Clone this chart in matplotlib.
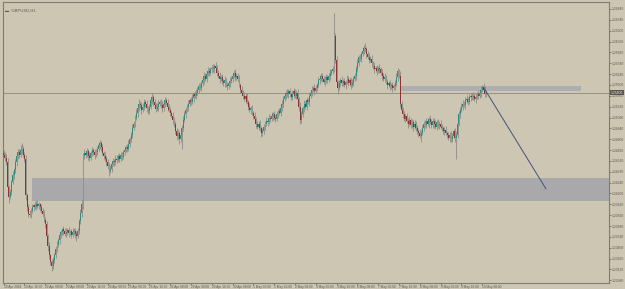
import numpy as np
import matplotlib.pyplot as plt

# GBPUSD H1, prices kept as pips above 1.2300
BASE = 1.2300
PIP = 0.0001

closes = [
    160, 156, 150, 118, 106, 112, 125, 134, 140, 150, 158, 163, 160, 166, 168, 160, 155, 108, 92, 84,
    82, 88, 92, 95, 93, 97, 94, 96, 92, 88, 84, 76, 70, 55, 42, 30, 22, 16, 24, 30,
    38, 44, 50, 56, 60, 64, 62, 58, 60, 63, 59, 61, 57, 60, 62, 58, 55, 62, 74, 85,
    96, 158, 162, 160, 165, 158, 156, 162, 166, 163, 160, 164, 168, 172, 175, 170, 162, 158, 155, 150,
    146, 139, 142, 148, 152, 150, 155, 153, 158, 155, 160, 157, 163, 166, 170, 168, 174, 180, 185, 195,
    200, 208, 214, 220, 226, 224, 218, 222, 228, 225, 220, 216, 222, 230, 234, 228, 224, 219, 222, 226,
    228, 224, 220, 226, 230, 227, 222, 218, 214, 210, 205, 200, 190, 184, 188, 180, 186, 195, 205, 212,
    218, 222, 226, 230, 228, 233, 238, 236, 240, 244, 248, 246, 252, 256, 262, 258, 264, 268, 266, 270,
    272, 270, 274, 272, 266, 262, 258, 260, 255, 252, 256, 250, 248, 252, 255, 258, 262, 265, 260, 262,
    258, 250, 244, 240, 236, 232, 236, 228, 222, 218, 220, 214, 210, 206, 200, 196, 200, 194, 188, 190,
    196, 200, 204, 202, 208, 206, 210, 212, 208, 206, 212, 216, 214, 220, 226, 232, 236, 240, 238, 242,
    238, 234, 238, 242, 236, 240, 232, 222, 205, 212, 220, 226, 222, 230, 228, 236, 240, 244, 246, 242,
    246, 250, 256, 258, 262, 258, 254, 256, 260, 257, 262, 266, 268, 270, 313, 282, 254, 246, 252, 256,
    252, 255, 250, 254, 258, 252, 256, 250, 253, 258, 262, 270, 278, 286, 284, 290, 294, 298, 296, 290,
    286, 282, 284, 278, 274, 270, 272, 268, 272, 270, 266, 262, 258, 260, 254, 250, 252, 248, 250, 246,
    248, 252, 260, 268, 262, 225, 218, 212, 206, 210, 204, 200, 205, 198, 202, 196, 200, 194, 190, 188,
    184, 188, 195, 200, 198, 204, 200, 206, 202, 198, 204, 200, 196, 202, 198, 200, 196, 194, 190, 192,
    188, 185, 182, 186, 180, 184, 190, 182, 186, 200, 212, 218, 222, 226, 224, 230, 232, 228, 234, 236,
    234, 236, 232, 235, 238, 236, 240, 244, 247, 244, 238, 240,
]
first_open = 162

up_wick = [
    4, 3, 5, 6, 3, 4, 2, 5, 3, 4, 3, 5, 4, 6, 7, 3, 4, 5, 3, 4,
    5, 3, 4, 2, 5, 3, 4, 3, 2, 4, 3, 5, 3, 4, 3, 5, 2, 3, 4, 3,
    4, 5, 3, 4, 3, 2, 4, 3, 5, 3, 4, 2, 3, 5, 3, 4, 3, 4, 3, 5,
    6, 4, 5, 3, 4, 3, 5, 3, 4, 3, 5, 4, 3, 5, 4, 3, 4, 3, 5, 3,
    4, 3, 5, 3, 4, 3, 4, 5, 3, 4, 3, 4, 3, 5, 3, 4, 5, 3, 4, 5,
    4, 3, 5, 4, 6, 3, 4, 5, 4, 3, 5, 3, 4, 5, 6, 3, 4, 3, 5, 4,
    3, 4, 5, 3, 4, 3, 5, 3, 4, 3, 5, 4, 3, 4, 5, 3, 4, 3, 5, 4,
    3, 4, 5, 3, 4, 5, 3, 4, 5, 3, 4, 5, 3, 4, 5, 3, 4, 5, 4, 3,
    4, 5, 3, 6, 4, 3, 5, 3, 4, 3, 5, 3, 4, 3, 5, 4, 3, 4, 5, 3,
    4, 5, 3, 4, 3, 5, 3, 4, 3, 5, 3, 4, 3, 5, 3, 4, 3, 5, 3, 4,
    3, 4, 5, 3, 4, 3, 5, 3, 4, 3, 5, 3, 4, 3, 5, 4, 3, 4, 5, 3,
    4, 3, 5, 4, 3, 4, 5, 3, 6, 4, 3, 5, 3, 4, 3, 5, 3, 4, 3, 5,
    4, 3, 4, 5, 3, 4, 3, 5, 4, 3, 4, 5, 3, 4, 30, 4, 5, 3, 4, 3,
    5, 3, 4, 3, 5, 3, 4, 3, 5, 4, 3, 4, 5, 3, 4, 3, 5, 4, 6, 3,
    4, 5, 3, 4, 3, 5, 3, 4, 3, 5, 3, 4, 3, 5, 3, 4, 3, 5, 3, 4,
    3, 4, 5, 4, 3, 6, 4, 3, 5, 3, 4, 3, 5, 3, 4, 3, 5, 3, 4, 3,
    5, 4, 3, 4, 5, 3, 4, 3, 5, 4, 3, 4, 5, 3, 4, 3, 5, 4, 3, 4,
    5, 3, 4, 3, 5, 4, 3, 4, 5, 3, 4, 3, 5, 4, 3, 4, 5, 3, 4, 3,
    4, 5, 3, 4, 3, 5, 3, 4, 3, 6, 4, 3,
]

down_wick = [
    3, 4, 3, 5, 8, 3, 4, 3, 5, 3, 4, 3, 4, 3, 5, 3, 4, 6, 5, 4,
    3, 4, 3, 5, 3, 4, 3, 4, 5, 3, 4, 3, 5, 4, 6, 5, 4, 6, 3, 4,
    3, 4, 3, 5, 3, 4, 5, 3, 4, 3, 5, 3, 4, 3, 4, 5, 6, 3, 4, 3,
    5, 6, 3, 4, 3, 5, 4, 3, 4, 3, 5, 3, 4, 3, 4, 5, 3, 4, 3, 5,
    4, 6, 3, 4, 3, 5, 3, 4, 3, 5, 3, 4, 3, 4, 3, 5, 3, 4, 3, 4,
    3, 4, 3, 5, 3, 4, 5, 3, 4, 3, 5, 3, 4, 3, 4, 5, 3, 4, 3, 5,
    3, 4, 5, 3, 4, 3, 5, 3, 4, 3, 5, 4, 3, 5, 4, 6, 3, 19, 4, 3,
    4, 3, 5, 3, 4, 3, 5, 3, 4, 3, 5, 3, 4, 3, 5, 3, 4, 3, 5, 3,
    4, 3, 5, 3, 4, 3, 5, 3, 4, 3, 5, 3, 4, 3, 5, 3, 4, 3, 5, 3,
    4, 3, 5, 3, 4, 3, 5, 3, 4, 3, 5, 3, 4, 3, 5, 3, 4, 3, 5, 4,
    3, 4, 3, 5, 3, 4, 3, 5, 3, 4, 3, 5, 3, 4, 3, 5, 3, 4, 3, 5,
    3, 4, 3, 5, 3, 4, 3, 5, 6, 4, 3, 5, 3, 4, 3, 5, 3, 4, 3, 5,
    3, 4, 3, 5, 3, 4, 3, 5, 3, 4, 3, 5, 3, 4, 3, 4, 5, 8, 3, 4,
    3, 4, 3, 5, 3, 4, 3, 5, 3, 4, 3, 5, 3, 4, 3, 5, 3, 4, 3, 5,
    3, 4, 3, 5, 3, 4, 3, 5, 3, 4, 3, 5, 3, 4, 3, 5, 3, 4, 3, 5,
    3, 4, 3, 5, 3, 4, 3, 5, 3, 4, 3, 5, 3, 4, 3, 5, 3, 4, 3, 5,
    3, 8, 3, 5, 3, 4, 3, 5, 3, 4, 3, 5, 3, 4, 3, 5, 3, 4, 3, 5,
    3, 4, 3, 5, 3, 4, 3, 5, 27, 4, 3, 5, 3, 4, 3, 5, 3, 4, 3, 5,
    3, 4, 3, 5, 3, 4, 3, 5, 3, 4, 3, 4,
]

x_labels = ["19 Apr 2024", "19 Apr 16:00", "22 Apr 08:00", "23 Apr 00:00", "23 Apr 16:00",
            "24 Apr 08:00", "25 Apr 00:00", "25 Apr 16:00", "26 Apr 08:00", "29 Apr 00:00",
            "29 Apr 16:00", "30 Apr 08:00", "1 May 00:00", "1 May 16:00", "2 May 08:00",
            "3 May 00:00", "3 May 16:00", "6 May 08:00", "7 May 00:00", "7 May 16:00",
            "8 May 08:00", "9 May 00:00", "9 May 16:00", "10 May 08:00"]
bars_per_label = 16

# zones (pips) and drawn objects
demand_zone = (100, 130)
supply_zone = (242, 249)
supply_from_bar = 305
supply_to_bar = 444
trend_start = (369, 247)
trend_end = (417, 116)
y_ticks_top = 1.26480
y_tick_step = 0.0014

bg = "#ccc6b2"
bull = "#2c8c7e"
bear = "#8a3434"
wick_col = "#8d8d88"
text_col = "#5c594f"
plt.rcParams['font.family'] = ['Liberation Sans', 'DejaVu Sans']

closes = np.array(closes, dtype=float)
opens = np.concatenate([[first_open], closes[:-1]])
highs = np.maximum(opens, closes) + np.array(up_wick)
lows = np.minimum(opens, closes) - np.array(down_wick)
o = BASE + opens * PIP
c = BASE + closes * PIP
h = BASE + highs * PIP
l = BASE + lows * PIP
n = np.arange(len(closes))

fig = plt.figure(figsize=(6.25, 2.89), dpi=100, facecolor=bg)
ax = fig.add_axes([3 / 625, 6 / 289, 606 / 625, 281 / 289])
ax.set_facecolor(bg)

ax.set_xlim(-0.5, 465.5)
ax.set_ylim(BASE - 5.5 * PIP, BASE + 357 * PIP)

# zones
ax.axhspan(BASE + demand_zone[0] * PIP, BASE + demand_zone[1] * PIP,
           xmin=(22 + 0.5) / 466, xmax=1, color="#a9a8ab", lw=0, zorder=1)
ax.fill_between([supply_from_bar, supply_to_bar],
                BASE + supply_zone[0] * PIP, BASE + supply_zone[1] * PIP,
                color="#aeadb1", lw=0, zorder=1)

# candles
ax.vlines(n, l, h, color=wick_col, lw=0.6, zorder=2)
up = c >= o
ax.bar(n[up], (c - o)[up], bottom=o[up], width=0.7, color=bull, lw=0, zorder=3)
ax.bar(n[~up], (o - c)[~up], bottom=c[~up], width=0.7, color=bear, lw=0, zorder=3)

# current price line
last = c[-1]
ax.axhline(last, color="#8e8978", lw=0.6, zorder=1.5)

# trend line
ax.plot([trend_start[0], trend_end[0]],
        [BASE + trend_start[1] * PIP, BASE + trend_end[1] * PIP],
        color="#45527c", lw=0.7, zorder=4)

# axes styling
for s in ax.spines.values():
    s.set_color("#807d72")
    s.set_linewidth(0.8)
ax.yaxis.tick_right()
yt = [y_ticks_top - k * y_tick_step for k in range(26)]
ax.set_yticks(yt)
ax.set_yticklabels(["%.5f" % v for v in yt])
ax.tick_params(axis="y", labelsize=2.4, colors=text_col, length=1.2, width=0.5, pad=0.8)
xt = [k * bars_per_label for k in range(len(x_labels))]
ax.set_xticks(xt)
ax.set_xticklabels(x_labels, ha="left")
ax.tick_params(axis="x", labelsize=2.3, colors=text_col, length=1.2, width=0.5, pad=0.5)

# current price tag
ax.text(1.003, last, "%.5f" % last, transform=ax.get_yaxis_transform(),
        fontsize=2.4, color="#e8e4d8", va="center", ha="left",
        bbox=dict(boxstyle="square,pad=0.2", fc="#5a5850", ec="none"), zorder=5, clip_on=False)

# symbol caption
ax.text(0.004, 0.975, "\u25ac  GBPUSD,H1", transform=ax.transAxes, fontsize=3.0,
        color=text_col, va="top", ha="left")

fig.savefig("out.png", dpi=100, facecolor=bg)
